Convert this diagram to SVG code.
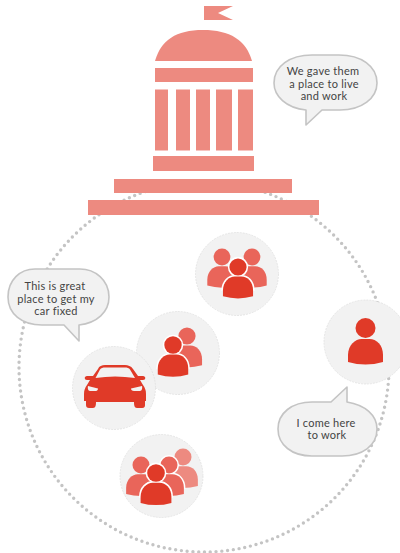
<svg xmlns="http://www.w3.org/2000/svg" xmlns:xlink="http://www.w3.org/1999/xlink" width="400" height="553" viewBox="0 0 400 553">
<style>
.b{fill:#ed8a80}
.disc{fill:#f2f2f2;stroke:#d9d9d9;stroke-width:.6;stroke-dasharray:2 1}
.bubble{fill:#f2f2f2;stroke:#c4c4c4;stroke-width:1.6;stroke-linejoin:round}
text{font-family:"Lato","Liberation Sans",sans-serif;font-size:11px;letter-spacing:.25px;fill:#444;text-anchor:middle}
.halo{fill:none;stroke:#fff;stroke-width:3.600}
</style>
<defs>
<g id="person-shape"><circle cx="0" cy="0" r="10"/><path d="M-17.500,34V27C-17.500,17-10,11-4,11H4C11,11 17.500,17 17.500,27V34Q0,39-17.500,34Z"/></g>
<g id="person"><circle class="halo" cx="0" cy="0" r="10"/><path class="halo" d="M-17.500,28V27C-17.500,17-10,11-4,11H4C11,11 17.500,17 17.500,27V28"/><use xlink:href="#person-shape" href="#person-shape"/></g>
</defs>
<rect width="400" height="553" fill="#fff"/>
<g id="connectors"><circle cx="204" cy="367" r="185" fill="none" stroke="#c4c4c4" stroke-width="3.400" stroke-linecap="round" stroke-dasharray="0 5.800"/></g>
<g id="building">
<path class="b" d="M204,6H233L218,13L233,20H204Z"/>
<path class="b" d="M155,61C161,40 176,30 203,30C230,30 246,40 252,61Z"/>
<rect class="b" x="155" y="68" width="98" height="14"/>
<rect class="b" x="155" y="89.500" width="13" height="61"/>
<rect class="b" x="176" y="89.500" width="14" height="61"/>
<rect class="b" x="196" y="89.500" width="14" height="61"/>
<rect class="b" x="216" y="89.500" width="16" height="61"/>
<rect class="b" x="238" y="89.500" width="15" height="61"/>
<rect class="b" x="153" y="156" width="101" height="15"/>
<rect class="b" x="114" y="179" width="178" height="14"/>
<rect class="b" x="88" y="200" width="231" height="15"/>
</g>
<g id="bubble-top"><path class="bubble" d="M306,110C286,108 274,96 274,83C274,66 290,55 312,55H339C361,55 377,66 377,83C377,98 362,110 340,110H322L306,125Z"/><text x="323" y="75">We gave them</text><text x="324" y="88">a place to live</text><text x="324" y="100">and work</text></g>
<g id="people-top"><circle class="disc" cx="237" cy="274" r="41.500"/>
<use xlink:href="#person-shape" href="#person-shape" transform="translate(222,257) scale(.84)" fill="#e9655a"/>
<use xlink:href="#person-shape" href="#person-shape" transform="translate(252,257) scale(.84)" fill="#e9655a"/>
<use xlink:href="#person" href="#person" transform="translate(238,267) scale(.86)" fill="#e03a28"/></g>
<g id="people-two"><circle class="disc" cx="178" cy="353" r="41.500"/>
<use xlink:href="#person-shape" href="#person-shape" transform="translate(187,336) scale(.86)" fill="#e9655a"/>
<use xlink:href="#person" href="#person" transform="translate(173,345) scale(.87)" fill="#e03a28"/></g>
<g id="car"><circle class="disc" cx="114" cy="388" r="41.500"/>
<path fill="#e03a28" fill-rule="evenodd" d="M93,376L98,369C99,366 102,365 105,365H125C128,365 131,366 133,369L138,376H143C146,376 146,380 143,380H140L143,385C145,388 146,390 146,394V401H145V405C145,408 143,408 141,408H138C135,408 134,407 134,402H96C96,407 95,408 92,408H89C87,408 86,407 86,405V401H84V394C84,390 85,388 87,385L90,380H87C84,380 84,376 87,376ZM95.500,378L100,369.500C101,368 103,367.500 105,367.500H125C127,367.500 129,368 130,369.500L135,378Q115,375 95.500,378ZM88,386L98,388.500C98,390 97,391 96,391H90C88,391 87.500,388 88,386ZM142,386L131,388.500C131,390 132,391 134,391H140C142,391 142.500,388 142,386Z"/></g>
<g id="bubble-left"><path class="bubble" d="M63,269H35C20,269 8,280 8,297C8,314 22,325 42,325H64L79,341V325C97,323 109,312 109,297C109,280 95,269 80,269Z"/><text x="55" y="290">This is great</text><text x="56" y="303">place to get my</text><text x="56" y="315">car fixed</text></g>
<g id="people-four"><circle class="disc" cx="161.500" cy="476" r="41.500"/>
<use xlink:href="#person-shape" href="#person-shape" transform="translate(183,457) scale(.85)" fill="#ed8a80"/>
<use xlink:href="#person-shape" href="#person-shape" transform="translate(141,465) scale(.85)" fill="#e9655a"/>
<use xlink:href="#person" href="#person" transform="translate(169,465) scale(.85)" fill="#e9655a"/>
<use xlink:href="#person" href="#person" transform="translate(156,473) scale(.88)" fill="#e03a28"/></g>
<g id="person-single"><circle class="disc" cx="366" cy="342" r="42"/>
<use xlink:href="#person-shape" href="#person-shape" transform="translate(365.500,328)" fill="#e03a28"/></g>
<g id="bubble-bottom"><path class="bubble" d="M347,387V402C365,405 377,415 377,429C377,446 362,456 342,456H312C292,456 278,445 278,429C278,413 292,402 312,402H331Z"/><text x="326" y="427">I come here</text><text x="327" y="439">to work</text></g>
</svg>
